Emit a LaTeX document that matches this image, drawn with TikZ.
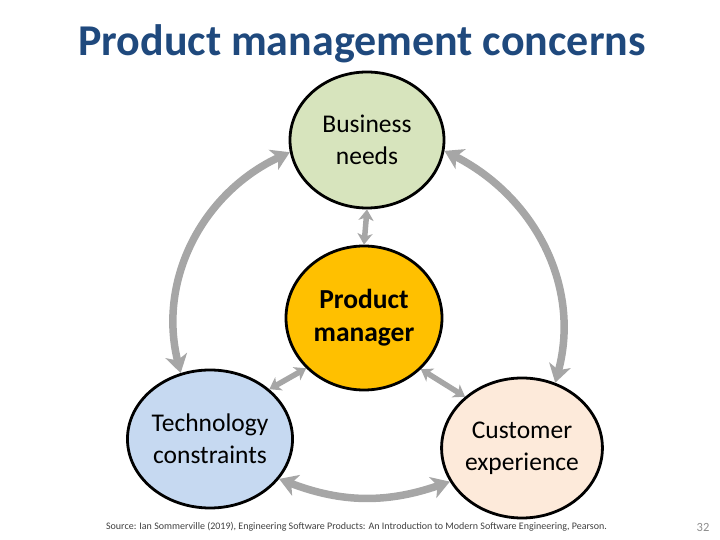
\documentclass[tikz,border=0pt]{standalone}
\usepackage{fontspec}
\setmainfont{Carlito}
\usetikzlibrary{shapes.geometric,arrows.meta}
\definecolor{titleblue}{HTML}{1F497D}
\definecolor{arrowgray}{HTML}{A6A6A6}
\definecolor{bnfill}{HTML}{D7E4BD}
\definecolor{pmfill}{HTML}{FFC000}
\definecolor{tcfill}{HTML}{C6D9F1}
\definecolor{cxfill}{HTML}{FDEADA}
\definecolor{footgray}{HTML}{404040}
\definecolor{pagegray}{HTML}{8C8C8C}
\begin{document}
\begin{tikzpicture}[x=1pt,y=1pt,
  concern/.style={ellipse, draw=black, line width=2.8pt, inner sep=0pt, align=center,
    font=\fontsize{25.5}{32}\selectfont},
  bigarrow/.style={draw=arrowgray, line width=7.5pt,
    {Stealth[length=18pt,width=22pt,inset=5pt]}-{Stealth[length=18pt,width=22pt,inset=5pt]}},
  smallarrow/.style={draw=arrowgray, line width=5.5pt,
    {Stealth[length=11pt,width=15pt,inset=3pt]}-{Stealth[length=11pt,width=15pt,inset=3pt]}}]
\useasboundingbox (0,0) rectangle (720,540);
\node[anchor=base, font=\fontsize{44}{52}\selectfont\bfseries, text=titleblue] (title) at (362,484) {Product management concerns};
\node[concern, fill=bnfill, minimum width=154pt, minimum height=136pt] (bn) at (367,400) {Business\\needs};
\node[concern, fill=pmfill, minimum width=156pt, minimum height=144pt, font=\fontsize{27.5}{33}\selectfont\bfseries] (pm) at (364,222) {Product\\manager};
\node[concern, fill=tcfill, minimum width=146pt, minimum height=138pt] (tc) at (210,101) {Technology\\constraints};
\node[concern, fill=cxfill, minimum width=152pt, minimum height=140pt] (cx) at (522,92) {Customer\\experience};
% connectors
\draw[smallarrow] (bn.south) -- (pm.north);
\draw[smallarrow] (pm.221) -- (tc.40);
\draw[smallarrow] (pm.318) -- (cx.138);
\draw[bigarrow] (tc.330) to[bend right=20] (cx.205);
\draw[bigarrow] (tc.114) to[out=104,in=205] (bn.189);
\draw[bigarrow] (bn.352) to[out=-27,in=75] (cx.63);
% footer
\node[font=\fontsize{10}{12}\selectfont, text=footgray] (src) at (356.5,13) {Source: Ian Sommerville (2019), Engineering Software Products: An Introduction to Modern Software Engineering, Pearson.};
\node[font=\fontsize{12.5}{14}\selectfont, text=pagegray] (page) at (703,13) {32};
\end{tikzpicture}
\end{document}
